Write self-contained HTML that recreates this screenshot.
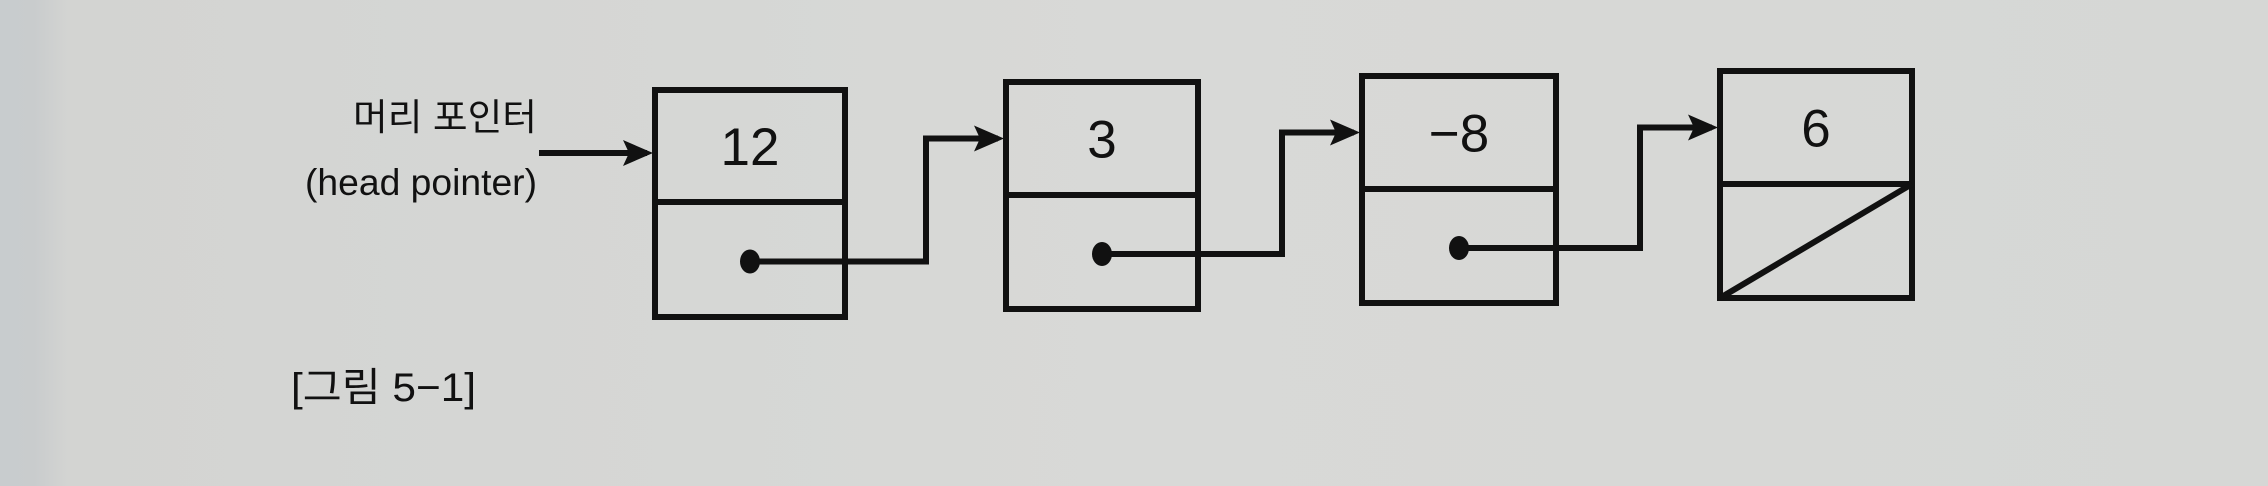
<!DOCTYPE html>
<html><head><meta charset="utf-8"><style>
html,body{margin:0;padding:0;}
body{width:2268px;height:486px;overflow:hidden;background:#d6d7d5;}
svg{display:block;}
text{font-family:"Liberation Sans","Noto Sans CJK KR",sans-serif;fill:#111;}
</style></head><body>
<svg width="2268" height="486" viewBox="0 0 2268 486">
<defs>
<linearGradient id="bg" x1="0" x2="1" y1="0" y2="0">
<stop offset="0" stop-color="#c8ccce"/><stop offset="0.015" stop-color="#c9cccd"/><stop offset="0.03" stop-color="#d3d4d2"/><stop offset="0.5" stop-color="#d8d9d7"/><stop offset="1" stop-color="#d6d7d5"/>
</linearGradient>
</defs>
<rect width="2268" height="486" fill="url(#bg)"/>
<g id="g" stroke="#111" stroke-width="6" fill="none"></g>
<text x="537" y="130" font-size="37" text-anchor="end" textLength="184" lengthAdjust="spacingAndGlyphs">머리 포인터</text>
<text x="537" y="195" font-size="37" text-anchor="end" textLength="232" lengthAdjust="spacingAndGlyphs">(head pointer)</text>
<text x="291" y="401" font-size="40" textLength="185" lengthAdjust="spacingAndGlyphs">[그림 5−1]</text>
</svg>
<script>
const values = ['12','3','−8','6'];
const boxLeft = [655,1006,1362,1720];
const boxRight = [845,1198,1556,1912];
const boxTop = [90,82,76,71];
const boxDiv = [202,195,189,184];
const boxBottom = [317,309,303,298];
const ns='http://www.w3.org/2000/svg';
const g=document.getElementById('g');
const svg=document.querySelector('svg');
function mk(t,a,p){const e=document.createElementNS(ns,t);for(const k in a)e.setAttribute(k,a[k]);(p||g).appendChild(e);return e;}
function arrowHead(x,y){const h=mk('polygon',{points:`${x},${y} ${x-30},${y-13} ${x-24},${y} ${x-30},${y+13}`,fill:'#111',stroke:'none'});

}
const hp=mk('line',{x1:539,y1:153,x2:boxLeft[0]-8,y2:153});


arrowHead(boxLeft[0]-2,153);
values.forEach((v,i)=>{
  const r=mk('rect',{x:boxLeft[i],y:boxTop[i],width:boxRight[i]-boxLeft[i],height:boxBottom[i]-boxTop[i]});
  
  
  const d=mk('line',{x1:boxLeft[i],y1:boxDiv[i],x2:boxRight[i],y2:boxDiv[i]});
  
  
  const cx=(boxLeft[i]+boxRight[i])/2;
  const t=mk('text',{x:cx,y:(boxTop[i]+boxDiv[i])/2+19,'font-size':53,'text-anchor':'middle'},svg);
  t.textContent=v;
  
  
  const py=(boxDiv[i]+boxBottom[i])/2+2;
  if(i<values.length-1){
    const dot=mk('ellipse',{cx:cx,cy:py,rx:10,ry:12,fill:'#111',stroke:'none'});
    
    
    const tx=boxLeft[i+1]-80, ty=(boxTop[i+1]+boxDiv[i+1])/2;
    const p=mk('polyline',{points:`${cx},${py} ${tx},${py} ${tx},${ty} ${boxLeft[i+1]-8},${ty}`});
    
    
    arrowHead(boxLeft[i+1]-2,ty);
  } else {
    const n=mk('line',{x1:boxLeft[i],y1:boxBottom[i],x2:boxRight[i],y2:boxDiv[i]});
    
    
  }
});
</script>
</body></html>
